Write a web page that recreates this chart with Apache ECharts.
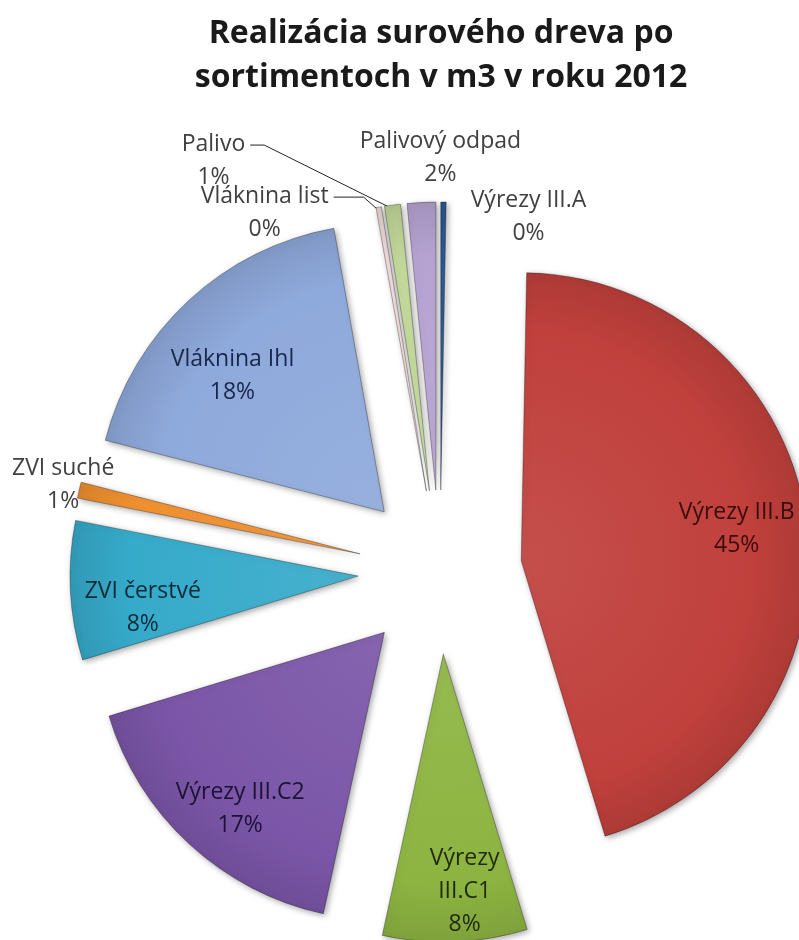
<!DOCTYPE html>
<html>
<head>
<meta charset="utf-8">
<script src="https://cdn.jsdelivr.net/npm/echarts@6/dist/echarts.min.js"></script>
<style>
  html, body { margin: 0; padding: 0; background: #fff; }
  #chart { width: 799px; height: 940px; }
</style>
</head>
<body>
<div id="chart"></div>
<script>
// ---------------------------------------------------
// Údaje: sortimenty a ich podiel (%)
// ---------------------------------------------------
const sortimenty = ['Výrezy III.A', 'Výrezy III.B', 'Výrezy III.C1', 'Výrezy III.C2', 'ZVI čerstvé',
  'ZVI suché', 'Vláknina Ihl', 'Vláknina list', 'Palivo', 'Palivový odpad'];
const podiely = [0.3, 45.0, 8.1, 16.9, 7.8, 0.9, 18.2, 0.3, 0.9, 1.6];
const farby = ['#2E5B9A', '#C0403C', '#8DB441', '#7B56A8', '#36AACA',
  '#F0902F', '#8EA9DB', '#F2DCDB', '#C2D89A', '#B6A3D2'];
const farbyTextu = ['#404040', '#3a0c0b', '#1e2a0a', '#1c1233', '#0d2a35',
  '#404040', '#18274a', '#404040', '#404040', '#404040'];

const CX = 440, CY = 572;
const R = 288;
const VYBUCH = 82;

// stredné uhly výsekov (od 12 hodín v smere hodín)
const suma = podiely.reduce((a, b) => a + b, 0);
let akum = 0;
const stredy = podiely.map(v => {
  const m = (akum + v / 2) / suma * 2 * Math.PI;
  akum += v;
  return m;
});

// posuny vnútorných popisov (px)
const posunVnutri = { 1: [-10, 0], 2: [12, 10], 3: [10, 9], 4: [12, 20], 6: [3, 31] };
// vonkajšie popisy: stred popisu vzhľadom na vonkajší vrchol výseku
const posunVonku = { 0: [85, 15], 9: [19, -45], 8: [-179, -44], 7: [-114, 6], 5: [-16, -5] };
// dĺžka vodorovnej časti spojnice
const spojnica = { 8: 14, 7: 30 };

// zmiešanie farby s bielou / čiernou (jemný 3D efekt)
function zmiesaj(hex, ciel, t) {
  const n = parseInt(hex.slice(1), 16);
  const c = [(n >> 16) & 255, (n >> 8) & 255, n & 255].map(v => Math.round(v + (ciel - v) * t));
  return 'rgb(' + c.join(',') + ')';
}

function rozlozPopis(p) {
  const i = p.dataIndex, lr = p.labelRect;
  const u = stredy[i];
  const sx = Math.sin(u), sy = -Math.cos(u);
  if (posunVonku[i]) {
    // labelRect je poloha pred vysunutím výseku
    const tx = CX + R * sx + posunVonku[i][0];
    const ty = CY + R * sy + posunVonku[i][1];
    const ax = p.align === 'right' ? lr.x + lr.width : (p.align === 'center' ? lr.x + lr.width / 2 : lr.x);
    const out = { dx: tx - ax, dy: ty - (lr.y + lr.height / 2), align: 'center' };
    if (spojnica[i]) {
      const y0 = ty - 16;
      const x0 = tx + lr.width / 2 + 5;
      out.labelLinePoints = [
        [CX + (R - 4) * sx, CY + (R - 4) * sy],
        [x0 + spojnica[i], y0],
        [x0, y0]
      ];
    }
    return out;
  }
  const s = posunVnutri[i] || [0, 0];
  return {
    dx: 0.28 * R * sx + s[0],
    dy: 0.28 * R * sy + s[1]
  };
}

const data = sortimenty.map((nazov, i) => {
  const von = posunVonku[i] !== undefined;
  const vypln = {
    type: 'radial', x: CX, y: CY, r: R, global: true,
    colorStops: [
      { offset: 0, color: zmiesaj(farby[i], 255, 0.08) },
      { offset: 0.8, color: farby[i] },
      { offset: 1, color: zmiesaj(farby[i], 0, 0.1) }
    ]
  };
  return {
    name: nazov,
    value: podiely[i],
    selected: true,
    itemStyle: { color: vypln },
    select: { itemStyle: { color: vypln, borderColor: 'rgba(0,0,0,0.3)', borderWidth: 1 } },
    label: {
      position: von ? 'outside' : 'inside',
      color: farbyTextu[i]
    },
    labelLine: { show: spojnica[i] !== undefined }
  };
});

const chart = echarts.init(document.getElementById('chart'));

const option = {
  animation: false,
  title: {
    text: 'Realizácia surového dreva po\nsortimentoch v m3 v roku 2012',
    left: '55.2%',
    top: 12,
    padding: 0,
    textAlign: 'center',
    textStyle: {
      fontFamily: 'Open Sans',
      fontWeight: 'bold',
      fontSize: 32,
      lineHeight: 44,
      color: '#1a1a1a'
    }
  },
  series: [{
    type: 'pie',
    center: [CX, CY],
    radius: R,
    startAngle: 90,
    clockwise: true,
    selectedMode: 'multiple',
    selectedOffset: VYBUCH,
    avoidLabelOverlap: false,
    emphasis: { disabled: true },
    itemStyle: {
      borderColor: 'rgba(0,0,0,0.3)',
      borderWidth: 1,
      shadowBlur: 6,
      shadowColor: 'rgba(0,0,0,0.35)',
      shadowOffsetX: 2,
      shadowOffsetY: 2
    },
    label: {
      show: true,
      fontFamily: 'Open Sans',
      fontSize: 23,
      lineHeight: 33,
      align: 'center',
      formatter: p => (p.dataIndex === 2 ? p.name.replace(' ', '\n') : p.name) + '\n' + Math.round(p.percent) + '%'
    },
    labelLine: {
      length: 10,
      length2: 10,
      lineStyle: { color: '#222', width: 1 }
    },
    labelLayout: rozlozPopis,
    data: data
  }]
};

chart.setOption(option);
</script>
</body>
</html>
